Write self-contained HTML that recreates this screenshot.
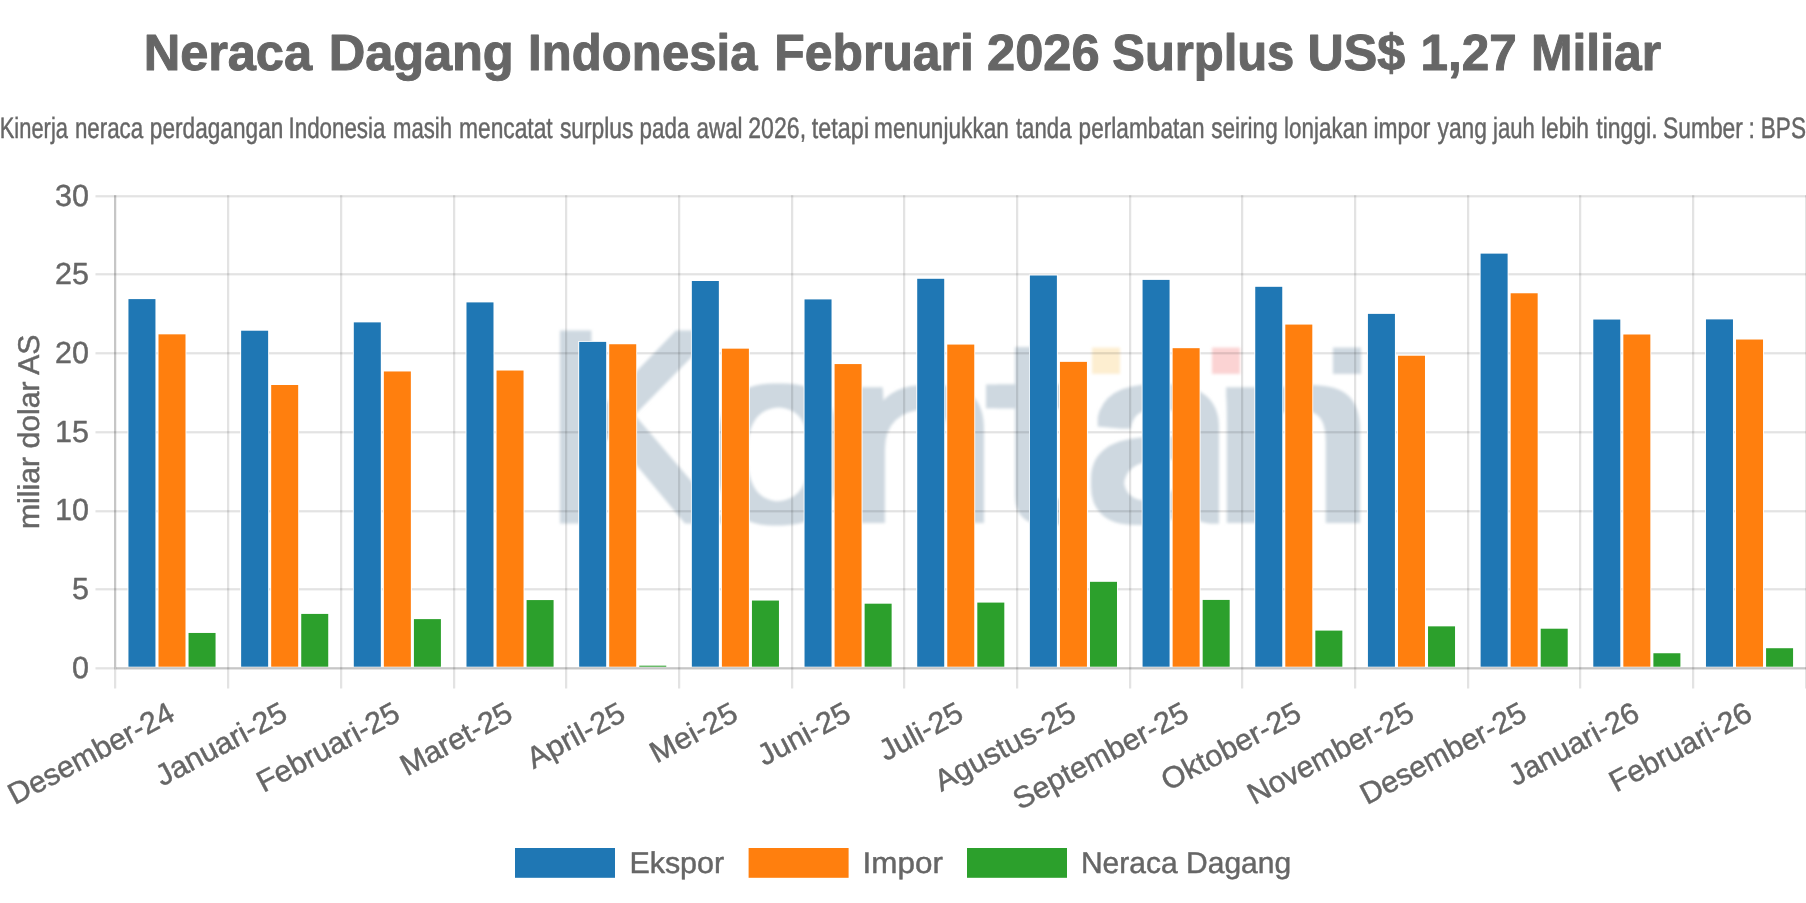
<!DOCTYPE html>
<html lang="id"><head><meta charset="utf-8"><title>Neraca Dagang Indonesia Februari 2026</title>
<style>html,body{margin:0;padding:0;background:#fff;overflow:hidden}svg{display:block}text{font-family:"Liberation Sans",sans-serif;fill:#666;text-rendering:geometricPrecision}.r{stroke:#666;stroke-width:3.6px;stroke-linejoin:round}.tb{stroke:#666;stroke-width:8px;stroke-linejoin:round}.g rect{mix-blend-mode:multiply}</style></head><body>
<svg width="1806" height="903" viewBox="0 0 1806 903">
<defs><filter id="b" x="-5%" y="-10%" width="110%" height="120%"><feGaussianBlur stdDeviation="1.6"/></filter><filter id="wb" x="-10%" y="-10%" width="120%" height="120%"><feMorphology operator="dilate" radius="4"/></filter><filter id="wk" x="-10%" y="-10%" width="120%" height="120%"><feMorphology operator="dilate" radius="2.5"/></filter></defs>
<rect width="1806" height="903" fill="#fff"/>
<text class="tb" transform="translate(0,70.3) scale(.125)" font-size="408" font-weight="bold"><tspan x="1149.8" textLength="1346.0" lengthAdjust="spacingAndGlyphs">Neraca</tspan> <tspan x="2629.8" textLength="1479.6" lengthAdjust="spacingAndGlyphs">Dagang</tspan> <tspan x="4224.9" textLength="1835.8" lengthAdjust="spacingAndGlyphs">Indonesia</tspan> <tspan x="6194.9" textLength="1595.7" lengthAdjust="spacingAndGlyphs">Februari</tspan> <tspan x="7895.5" textLength="902.3" lengthAdjust="spacingAndGlyphs">2026</tspan> <tspan x="8898.3" textLength="1456.1" lengthAdjust="spacingAndGlyphs">Surplus</tspan> <tspan x="10459.0" textLength="783.5" lengthAdjust="spacingAndGlyphs">US$</tspan> <tspan x="11364.7" textLength="769.5" lengthAdjust="spacingAndGlyphs">1,27</tspan> <tspan x="12248.6" textLength="1039.9" lengthAdjust="spacingAndGlyphs">Miliar</tspan></text>
<text class="r" transform="translate(0,137.5) scale(.125)" font-size="236.0"><tspan x="-2.4" textLength="546.4" lengthAdjust="spacingAndGlyphs">Kinerja</tspan> <tspan x="599.4" textLength="545.4" lengthAdjust="spacingAndGlyphs">neraca</tspan> <tspan x="1198.3" textLength="1068.7" lengthAdjust="spacingAndGlyphs">perdagangan</tspan> <tspan x="2308.3" textLength="774.9" lengthAdjust="spacingAndGlyphs">Indonesia</tspan> <tspan x="3143.4" textLength="472.9" lengthAdjust="spacingAndGlyphs">masih</tspan> <tspan x="3672.7" textLength="748.6" lengthAdjust="spacingAndGlyphs">mencatat</tspan> <tspan x="4479.7" textLength="586.8" lengthAdjust="spacingAndGlyphs">surplus</tspan> <tspan x="5116.4" textLength="398.8" lengthAdjust="spacingAndGlyphs">pada</tspan> <tspan x="5572.4" textLength="368.4" lengthAdjust="spacingAndGlyphs">awal</tspan> <tspan x="5985.9" textLength="462.7" lengthAdjust="spacingAndGlyphs">2026,</tspan> <tspan x="6494.8" textLength="457.8" lengthAdjust="spacingAndGlyphs">tetapi</tspan> <tspan x="6992.8" textLength="1079.0" lengthAdjust="spacingAndGlyphs">menunjukkan</tspan> <tspan x="8127.3" textLength="444.7" lengthAdjust="spacingAndGlyphs">tanda</tspan> <tspan x="8628.3" textLength="1008.3" lengthAdjust="spacingAndGlyphs">perlambatan</tspan> <tspan x="9690.2" textLength="531.4" lengthAdjust="spacingAndGlyphs">seiring</tspan> <tspan x="10272.7" textLength="669.0" lengthAdjust="spacingAndGlyphs">lonjakan</tspan> <tspan x="10987.8" textLength="455.2" lengthAdjust="spacingAndGlyphs">impor</tspan> <tspan x="11499.6" textLength="397.0" lengthAdjust="spacingAndGlyphs">yang</tspan> <tspan x="11944.3" textLength="335.2" lengthAdjust="spacingAndGlyphs">jauh</tspan> <tspan x="12327.8" textLength="384.1" lengthAdjust="spacingAndGlyphs">lebih</tspan> <tspan x="12770.0" textLength="490.8" lengthAdjust="spacingAndGlyphs">tinggi.</tspan> <tspan x="13303.7" textLength="639.3" lengthAdjust="spacingAndGlyphs">Sumber</tspan> <tspan x="13988.4" textLength="51.1" lengthAdjust="spacingAndGlyphs">:</tspan> <tspan x="14085.1" textLength="363.2" lengthAdjust="spacingAndGlyphs">BPS</tspan></text>
<clipPath id="ca"><rect x="1080" y="360" width="135" height="180"/></clipPath>
<g filter="url(#b)" style="font-size:100px"><g filter="url(#wk)"><text transform="translate(540.62,520.50) scale(2.7278,2.7181)" style="fill:#ced8e0">K</text></g><g filter="url(#wb)"><text transform="translate(709.68,518.61) scale(2.4568,2.4459)" style="fill:#ced8e0">o</text></g><g filter="url(#wb)"><text transform="translate(834.30,519.00) scale(2.9661,2.4160)" style="fill:#ced8e0">n</text></g><g filter="url(#wb)"><text transform="translate(996.47,519.07) scale(2.9582,2.4714)" style="fill:#ced8e0">t</text><rect x="990.00" y="388.50" width="89.00" height="15.81" fill="#ced8e0"/><rect x="1019.00" y="351.00" width="26.00" height="60.00" fill="#ced8e0"/></g><g filter="url(#wb)"><g clip-path="url(#ca)"><text transform="translate(1083.30,518.63) scale(2.7552,2.4277)" style="fill:#ced8e0">a</text></g></g><g filter="url(#wb)"><text transform="translate(1210.30,519.00) scale(2.9661,2.4160)" style="fill:#ced8e0">n</text></g></g>
<g filter="url(#b)">
<rect x="1092" y="347.6" width="28" height="26.3" fill="#fdeed0"/>
<rect x="1212" y="347.6" width="28" height="26.3" fill="#fbd3d3"/>
<rect x="1333" y="347.6" width="28" height="26.3" fill="#ced8e0"/>
</g>
<g class="g"><rect x="114.00" y="195.20" width="2.25" height="474.30" fill="#c6c6c6"/><rect x="114.00" y="669.50" width="2.25" height="19.00" fill="#e3e3e3"/><rect x="227.00" y="195.20" width="2.25" height="493.30" fill="#e3e3e3"/><rect x="340.00" y="195.20" width="2.25" height="493.30" fill="#e3e3e3"/><rect x="453.00" y="195.20" width="2.25" height="493.30" fill="#e3e3e3"/><rect x="565.00" y="195.20" width="2.25" height="493.30" fill="#e3e3e3"/><rect x="678.00" y="195.20" width="2.25" height="493.30" fill="#e3e3e3"/><rect x="791.00" y="195.20" width="2.25" height="493.30" fill="#e3e3e3"/><rect x="903.00" y="195.20" width="2.25" height="493.30" fill="#e3e3e3"/><rect x="1016.00" y="195.20" width="2.25" height="493.30" fill="#e3e3e3"/><rect x="1129.00" y="195.20" width="2.25" height="493.30" fill="#e3e3e3"/><rect x="1241.00" y="195.20" width="2.25" height="493.30" fill="#e3e3e3"/><rect x="1354.00" y="195.20" width="2.25" height="493.30" fill="#e3e3e3"/><rect x="1467.00" y="195.20" width="2.25" height="493.30" fill="#e3e3e3"/><rect x="1579.00" y="195.20" width="2.25" height="493.30" fill="#e3e3e3"/><rect x="1692.00" y="195.20" width="2.25" height="493.30" fill="#e3e3e3"/><rect x="1805.00" y="195.20" width="2.25" height="493.30" fill="#e3e3e3"/><rect x="95.48" y="667.20" width="19.00" height="2.25" fill="#e3e3e3"/><rect x="116.00" y="667.20" width="1690.20" height="2.25" fill="#c6c6c6"/><rect x="95.48" y="588.15" width="1711.20" height="2.25" fill="#e3e3e3"/><rect x="95.48" y="510.15" width="1711.20" height="2.25" fill="#e3e3e3"/><rect x="95.48" y="431.15" width="1711.20" height="2.25" fill="#e3e3e3"/><rect x="95.48" y="352.15" width="1711.20" height="2.25" fill="#e3e3e3"/><rect x="95.48" y="273.15" width="1711.20" height="2.25" fill="#e3e3e3"/><rect x="95.48" y="195.15" width="1711.20" height="2.25" fill="#e3e3e3"/></g>
<text class="r" transform="translate(89,677.50) scale(.125)" font-size="244.0" text-anchor="end">0</text>
<text class="r" transform="translate(89,598.83) scale(.125)" font-size="244.0" text-anchor="end">5</text>
<text class="r" transform="translate(89,520.17) scale(.125)" font-size="244.0" text-anchor="end">10</text>
<text class="r" transform="translate(89,441.50) scale(.125)" font-size="244.0" text-anchor="end">15</text>
<text class="r" transform="translate(89,362.83) scale(.125)" font-size="244.0" text-anchor="end">20</text>
<text class="r" transform="translate(89,284.17) scale(.125)" font-size="244.0" text-anchor="end">25</text>
<text class="r" transform="translate(89,205.50) scale(.125)" font-size="244.0" text-anchor="end">30</text>
<text class="r" transform="translate(38.8,431.8) rotate(-90) scale(.125)" font-size="240" text-anchor="middle" textLength="1556.0" lengthAdjust="spacingAndGlyphs">miliar dolar AS</text>
<g><rect x="127.55" y="298.20" width="28.80" height="368.70" fill="#fff"/><rect x="128.45" y="299.10" width="27.00" height="367.60" fill="#1f77b4"/><rect x="157.60" y="333.44" width="28.80" height="333.46" fill="#fff"/><rect x="158.50" y="334.34" width="27.00" height="332.36" fill="#ff7f0e"/><rect x="187.65" y="632.06" width="28.80" height="34.84" fill="#fff"/><rect x="188.55" y="632.96" width="27.00" height="33.74" fill="#2ca02c"/><rect x="240.23" y="329.82" width="28.80" height="337.08" fill="#fff"/><rect x="241.13" y="330.72" width="27.00" height="335.98" fill="#1f77b4"/><rect x="270.28" y="384.10" width="28.80" height="282.80" fill="#fff"/><rect x="271.18" y="385.00" width="27.00" height="281.70" fill="#ff7f0e"/><rect x="300.33" y="613.02" width="28.80" height="53.88" fill="#fff"/><rect x="301.23" y="613.92" width="27.00" height="52.78" fill="#2ca02c"/><rect x="352.91" y="321.48" width="28.80" height="345.42" fill="#fff"/><rect x="353.81" y="322.38" width="27.00" height="344.32" fill="#1f77b4"/><rect x="382.96" y="370.57" width="28.80" height="296.33" fill="#fff"/><rect x="383.86" y="371.47" width="27.00" height="295.23" fill="#ff7f0e"/><rect x="413.01" y="618.21" width="28.80" height="48.69" fill="#fff"/><rect x="413.91" y="619.11" width="27.00" height="47.59" fill="#2ca02c"/><rect x="465.59" y="301.50" width="28.80" height="365.40" fill="#fff"/><rect x="466.49" y="302.40" width="27.00" height="364.30" fill="#1f77b4"/><rect x="495.64" y="369.63" width="28.80" height="297.27" fill="#fff"/><rect x="496.54" y="370.53" width="27.00" height="296.17" fill="#ff7f0e"/><rect x="525.69" y="599.17" width="28.80" height="67.73" fill="#fff"/><rect x="526.59" y="600.07" width="27.00" height="66.63" fill="#2ca02c"/><rect x="578.27" y="340.99" width="28.80" height="325.91" fill="#fff"/><rect x="579.17" y="341.89" width="27.00" height="324.81" fill="#1f77b4"/><rect x="608.32" y="343.35" width="28.80" height="323.55" fill="#fff"/><rect x="609.22" y="344.25" width="27.00" height="322.45" fill="#ff7f0e"/><rect x="638.37" y="664.78" width="28.80" height="2.12" fill="#fff"/><rect x="639.27" y="665.68" width="27.00" height="1.02" fill="#2ca02c"/><rect x="690.95" y="280.10" width="28.80" height="386.80" fill="#fff"/><rect x="691.85" y="281.00" width="27.00" height="385.70" fill="#1f77b4"/><rect x="721.00" y="347.76" width="28.80" height="319.14" fill="#fff"/><rect x="721.90" y="348.66" width="27.00" height="318.04" fill="#ff7f0e"/><rect x="751.05" y="599.65" width="28.80" height="67.25" fill="#fff"/><rect x="751.95" y="600.55" width="27.00" height="66.15" fill="#2ca02c"/><rect x="803.63" y="298.51" width="28.80" height="368.39" fill="#fff"/><rect x="804.53" y="299.41" width="27.00" height="367.29" fill="#1f77b4"/><rect x="833.68" y="363.17" width="28.80" height="303.73" fill="#fff"/><rect x="834.58" y="364.07" width="27.00" height="302.63" fill="#ff7f0e"/><rect x="863.73" y="602.79" width="28.80" height="64.11" fill="#fff"/><rect x="864.63" y="603.69" width="27.00" height="63.01" fill="#2ca02c"/><rect x="916.31" y="277.90" width="28.80" height="389.00" fill="#fff"/><rect x="917.21" y="278.80" width="27.00" height="387.90" fill="#1f77b4"/><rect x="946.36" y="343.67" width="28.80" height="323.23" fill="#fff"/><rect x="947.26" y="344.57" width="27.00" height="322.13" fill="#ff7f0e"/><rect x="976.41" y="601.69" width="28.80" height="65.21" fill="#fff"/><rect x="977.31" y="602.59" width="27.00" height="64.11" fill="#2ca02c"/><rect x="1028.99" y="274.60" width="28.80" height="392.30" fill="#fff"/><rect x="1029.89" y="275.50" width="27.00" height="391.20" fill="#1f77b4"/><rect x="1059.04" y="360.97" width="28.80" height="305.93" fill="#fff"/><rect x="1059.94" y="361.87" width="27.00" height="304.83" fill="#ff7f0e"/><rect x="1089.09" y="580.92" width="28.80" height="85.98" fill="#fff"/><rect x="1089.99" y="581.82" width="27.00" height="84.88" fill="#2ca02c"/><rect x="1141.67" y="279.00" width="28.80" height="387.90" fill="#fff"/><rect x="1142.57" y="279.90" width="27.00" height="386.80" fill="#1f77b4"/><rect x="1171.72" y="347.28" width="28.80" height="319.62" fill="#fff"/><rect x="1172.62" y="348.18" width="27.00" height="318.52" fill="#ff7f0e"/><rect x="1201.77" y="599.02" width="28.80" height="67.88" fill="#fff"/><rect x="1202.67" y="599.92" width="27.00" height="66.78" fill="#2ca02c"/><rect x="1254.35" y="285.92" width="28.80" height="380.98" fill="#fff"/><rect x="1255.25" y="286.82" width="27.00" height="379.88" fill="#1f77b4"/><rect x="1284.40" y="323.68" width="28.80" height="343.22" fill="#fff"/><rect x="1285.30" y="324.58" width="27.00" height="342.12" fill="#ff7f0e"/><rect x="1314.45" y="629.70" width="28.80" height="37.20" fill="#fff"/><rect x="1315.35" y="630.60" width="27.00" height="36.10" fill="#2ca02c"/><rect x="1367.03" y="312.99" width="28.80" height="353.91" fill="#fff"/><rect x="1367.93" y="313.89" width="27.00" height="352.81" fill="#1f77b4"/><rect x="1397.08" y="354.84" width="28.80" height="312.06" fill="#fff"/><rect x="1397.98" y="355.74" width="27.00" height="310.96" fill="#ff7f0e"/><rect x="1427.13" y="625.45" width="28.80" height="41.45" fill="#fff"/><rect x="1428.03" y="626.35" width="27.00" height="40.35" fill="#2ca02c"/><rect x="1479.71" y="252.73" width="28.80" height="414.17" fill="#fff"/><rect x="1480.61" y="253.63" width="27.00" height="413.07" fill="#1f77b4"/><rect x="1509.76" y="292.37" width="28.80" height="374.53" fill="#fff"/><rect x="1510.66" y="293.27" width="27.00" height="373.43" fill="#ff7f0e"/><rect x="1539.81" y="627.81" width="28.80" height="39.09" fill="#fff"/><rect x="1540.71" y="628.71" width="27.00" height="37.99" fill="#2ca02c"/><rect x="1592.39" y="318.65" width="28.80" height="348.25" fill="#fff"/><rect x="1593.29" y="319.55" width="27.00" height="347.15" fill="#1f77b4"/><rect x="1622.44" y="333.60" width="28.80" height="333.30" fill="#fff"/><rect x="1623.34" y="334.50" width="27.00" height="332.20" fill="#ff7f0e"/><rect x="1652.49" y="652.35" width="28.80" height="14.55" fill="#fff"/><rect x="1653.39" y="653.25" width="27.00" height="13.45" fill="#2ca02c"/><rect x="1705.07" y="318.49" width="28.80" height="348.41" fill="#fff"/><rect x="1705.97" y="319.39" width="27.00" height="347.31" fill="#1f77b4"/><rect x="1735.12" y="338.63" width="28.80" height="328.27" fill="#fff"/><rect x="1736.02" y="339.53" width="27.00" height="327.17" fill="#ff7f0e"/><rect x="1765.17" y="647.32" width="28.80" height="19.58" fill="#fff"/><rect x="1766.07" y="648.22" width="27.00" height="18.48" fill="#2ca02c"/></g>
<text class="r" transform="translate(176.54,719.35) rotate(-28.0) scale(.125)" x="-1464.9" font-size="240" textLength="1464.9" lengthAdjust="spacingAndGlyphs">Desember-24</text>
<text class="r" transform="translate(289.22,719.35) rotate(-28.0) scale(.125)" x="-1150.5" font-size="240" textLength="1150.5" lengthAdjust="spacingAndGlyphs">Januari-25</text>
<text class="r" transform="translate(401.90,719.35) rotate(-28.0) scale(.125)" x="-1253.9" font-size="240" textLength="1253.9" lengthAdjust="spacingAndGlyphs">Februari-25</text>
<text class="r" transform="translate(514.58,719.35) rotate(-28.0) scale(.125)" x="-975.6" font-size="240" textLength="975.6" lengthAdjust="spacingAndGlyphs">Maret-25</text>
<text class="r" transform="translate(627.26,719.35) rotate(-28.0) scale(.125)" x="-849.2" font-size="240" textLength="849.2" lengthAdjust="spacingAndGlyphs">April-25</text>
<text class="r" transform="translate(739.94,719.35) rotate(-28.0) scale(.125)" x="-755.1" font-size="240" textLength="755.1" lengthAdjust="spacingAndGlyphs">Mei-25</text>
<text class="r" transform="translate(852.62,719.35) rotate(-28.0) scale(.125)" x="-801.1" font-size="240" textLength="801.1" lengthAdjust="spacingAndGlyphs">Juni-25</text>
<text class="r" transform="translate(965.30,719.35) rotate(-28.0) scale(.125)" x="-720.3" font-size="240" textLength="720.3" lengthAdjust="spacingAndGlyphs">Juli-25</text>
<text class="r" transform="translate(1077.98,719.35) rotate(-28.0) scale(.125)" x="-1239.2" font-size="240" textLength="1239.2" lengthAdjust="spacingAndGlyphs">Agustus-25</text>
<text class="r" transform="translate(1190.66,719.35) rotate(-28.0) scale(.125)" x="-1548.3" font-size="240" textLength="1548.3" lengthAdjust="spacingAndGlyphs">September-25</text>
<text class="r" transform="translate(1303.34,719.35) rotate(-28.0) scale(.125)" x="-1225.6" font-size="240" textLength="1225.6" lengthAdjust="spacingAndGlyphs">Oktober-25</text>
<text class="r" transform="translate(1416.02,719.35) rotate(-28.0) scale(.125)" x="-1464.9" font-size="240" textLength="1464.9" lengthAdjust="spacingAndGlyphs">November-25</text>
<text class="r" transform="translate(1528.70,719.35) rotate(-28.0) scale(.125)" x="-1464.9" font-size="240" textLength="1464.9" lengthAdjust="spacingAndGlyphs">Desember-25</text>
<text class="r" transform="translate(1641.38,719.35) rotate(-28.0) scale(.125)" x="-1142.5" font-size="240" textLength="1142.5" lengthAdjust="spacingAndGlyphs">Januari-26</text>
<text class="r" transform="translate(1754.06,719.35) rotate(-28.0) scale(.125)" x="-1249.9" font-size="240" textLength="1249.9" lengthAdjust="spacingAndGlyphs">Februari-26</text>
<rect x="515" y="848" width="100" height="29.8" fill="#1f77b4"/>
<text class="r" transform="translate(629.4,873) scale(.125)" font-size="240" textLength="757.4" lengthAdjust="spacingAndGlyphs">Ekspor</text>
<rect x="748.6" y="848" width="100" height="29.8" fill="#ff7f0e"/>
<text class="r" transform="translate(862.6,873) scale(.125)" font-size="240" textLength="642.3" lengthAdjust="spacingAndGlyphs">Impor</text>
<rect x="967" y="848" width="100" height="29.8" fill="#2ca02c"/>
<text class="r" transform="translate(1080.9,873) scale(.125)" font-size="240" textLength="1682.6" lengthAdjust="spacingAndGlyphs">Neraca Dagang</text>
</svg></body></html>
